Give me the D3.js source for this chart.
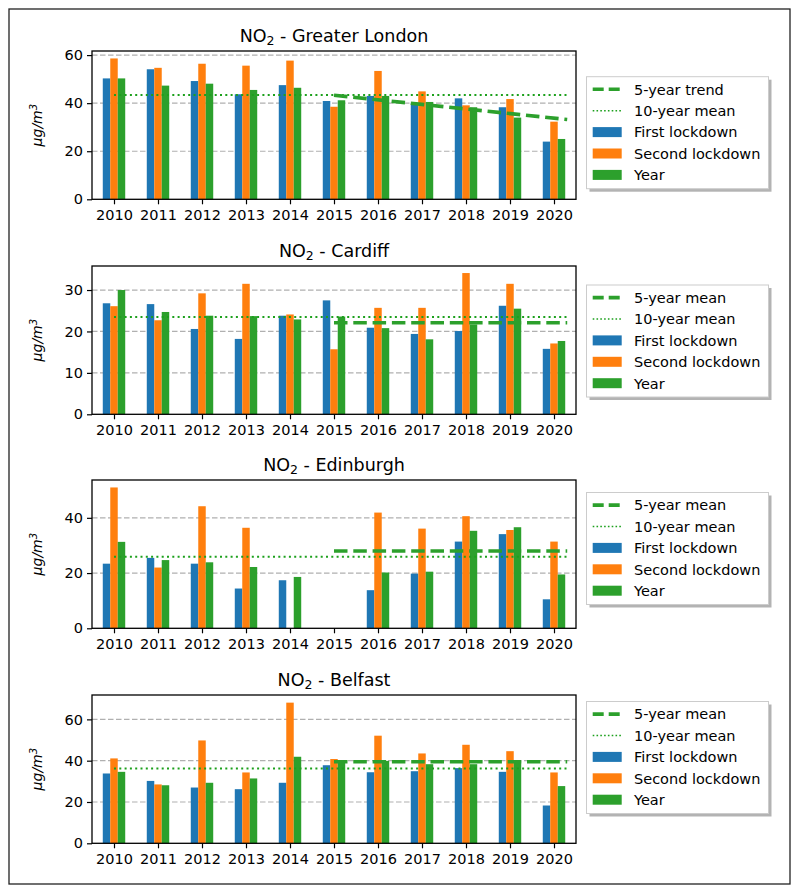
<!DOCTYPE html>
<html>
<head>
<meta charset="utf-8">
<script src="https://cdn.jsdelivr.net/npm/d3@7"></script>
<style>
  body { margin: 0; background: #fff; }
  svg { display: block; font-family: "DejaVu Sans", sans-serif; }
</style>
</head>
<body>
<svg id="chart" width="800" height="894"></svg>
<script>
const years = [2010, 2011, 2012, 2013, 2014, 2015, 2016, 2017, 2018, 2019, 2020];
const seriesNames = ["First lockdown", "Second lockdown", "Year"];
const seriesColors = ["#1f77b4", "#ff7f0e", "#2ca02c"];

const cities = ["Greater London", "Cardiff", "Edinburgh", "Belfast"];

const londonFirst  = [50.3, 54.1, 49.2, 43.7, 47.5, 40.9, 43.0, 39.9, 42.0, 38.3, 24.0];
const londonSecond = [58.6, 54.7, 56.4, 55.6, 57.7, 38.5, 53.4, 44.9, 39.1, 41.7, 32.3];
const londonYear   = [50.3, 47.3, 48.1, 45.5, 46.4, 41.2, 43.0, 40.5, 38.3, 34.0, 25.1];

const cardiffFirst  = [26.8, 26.6, 20.6, 18.2, 23.8, 27.5, 20.9, 19.4, 20.1, 26.2, 15.8];
const cardiffSecond = [26.1, 22.7, 29.2, 31.5, 24.1, 15.7, 25.7, 25.7, 34.1, 31.5, 17.1];
const cardiffYear   = [30.0, 24.7, 23.8, 23.7, 22.9, 23.6, 20.8, 18.1, 21.7, 25.5, 17.7];

const edinburghFirst  = [23.4, 25.5, 23.4, 14.4, 17.4, null, 13.8, 19.8, 31.4, 34.1, 10.5];
const edinburghSecond = [51.0, 22.0, 44.2, 36.4, null, null, 41.9, 36.1, 40.6, 35.6, 31.4];
const edinburghYear   = [31.3, 24.7, 23.9, 22.2, 18.6, null, 20.2, 20.5, 35.3, 36.6, 19.5];

const belfastFirst  = [33.8, 30.2, 27.0, 26.2, 29.3, 37.8, 34.4, 34.9, 36.4, 34.6, 18.3];
const belfastSecond = [41.1, 28.5, 49.8, 34.3, 68.1, 40.8, 52.1, 43.5, 47.7, 44.6, 34.3];
const belfastYear   = [34.6, 28.1, 29.3, 31.4, 41.9, 40.1, 39.9, 38.3, 38.3, 39.9, 27.7];

// 10-year mean and 5-year mean/trend lines: [start value, end value]
const tenYearMean = [43.4, 23.5, 25.9, 36.2];
const fiveYearLine = [[43.3, 33.2], [22.1, 22.1], [28.0, 28.0], [39.5, 39.5]];
const fiveYearLabels = ["5-year trend", "5-year mean", "5-year mean", "5-year mean"];
const tenYearSpan = [2010, 2020.3];
const fiveYearSpan = [2015, 2020.3];

const yMax = [61.7, 35.8, 53.7, 71.8];
const yTicks = [[0, 20, 40, 60], [0, 10, 20, 30], [0, 20, 40], [0, 20, 40, 60]];

const seriesData = [
  [londonFirst, londonSecond, londonYear],
  [cardiffFirst, cardiffSecond, cardiffYear],
  [edinburghFirst, edinburghSecond, edinburghYear],
  [belfastFirst, belfastSecond, belfastYear]
];

// layout
const axLeft = 92, axRight = 576;
const axTops = [51, 266, 480, 695];
const axH = 148.3;
const legendTops = [76.7, 285, 492.5, 701.5];

const svg = d3.select("#chart");

// outer frame
svg.append("rect").attr("x", 9).attr("y", 9).attr("width", 781).attr("height", 875)
  .attr("fill", "none").attr("stroke", "#222").attr("stroke-width", 1.3);

const x = d3.scaleLinear().domain([2009.5, 2020.5]).range([axLeft, axRight]);
const bw = 0.17;
const offsets = [-bw, 0, bw];

const lineGreen = "#2ca02c";
const dotGreen = "#1ca01c";

cities.forEach((city, p) => {
  const top = axTops[p];
  const bottom = top + axH;
  const y = d3.scaleLinear().domain([0, yMax[p]]).range([bottom, top]);
  const g = svg.append("g");

  // grid
  g.selectAll("line.grid").data(yTicks[p].filter(t => t > 0)).join("line")
    .attr("class", "grid")
    .attr("x1", axLeft).attr("x2", axRight)
    .attr("y1", d => y(d)).attr("y2", d => y(d))
    .attr("stroke", "#b0b0b0").attr("stroke-width", 1.2)
    .attr("stroke-dasharray", "5.5,2.5");

  // bars
  seriesData[p].forEach((vals, s) => {
    const rows = years.map((yr, i) => ({ yr, v: vals[i] })).filter(d => d.v != null);
    g.selectAll("rect.s" + s).data(rows).join("rect")
      .attr("class", "s" + s)
      .attr("x", d => x(d.yr + offsets[s] - bw / 2))
      .attr("width", x(bw) - x(0))
      .attr("y", d => y(d.v))
      .attr("height", d => y(0) - y(d.v))
      .attr("fill", seriesColors[s]);
  });

  // 10-year mean (dotted)
  g.append("line")
    .attr("x1", x(tenYearSpan[0])).attr("x2", x(tenYearSpan[1]))
    .attr("y1", y(tenYearMean[p])).attr("y2", y(tenYearMean[p]))
    .attr("stroke", dotGreen).attr("stroke-width", 2)
    .attr("stroke-dasharray", "2,3.3");

  // 5-year line (dashed)
  g.append("line")
    .attr("x1", x(fiveYearSpan[0])).attr("x2", x(fiveYearSpan[1]))
    .attr("y1", y(fiveYearLine[p][0])).attr("y2", y(fiveYearLine[p][1]))
    .attr("stroke", lineGreen).attr("stroke-width", 3.6)
    .attr("stroke-dasharray", "13.5,5.8");

  // axes
  const yAxis = d3.axisLeft(y).tickValues(yTicks[p]).tickSize(5).tickPadding(4);
  const ya = g.append("g").attr("transform", `translate(${axLeft},0)`).call(yAxis);
  const xAxis = d3.axisBottom(x).tickValues(years).tickFormat(d3.format("d")).tickSize(5).tickPadding(5);
  const xa = g.append("g").attr("transform", `translate(0,${bottom})`).call(xAxis);
  [ya, xa].forEach(a => {
    a.select(".domain").remove();
    a.selectAll(".tick line").attr("stroke", "#000").attr("stroke-width", 1.2);
    a.selectAll(".tick text").attr("fill", "#000").attr("font-size", 14.5)
      .attr("font-family", "DejaVu Sans");
  });

  // spines
  g.append("rect").attr("x", axLeft).attr("y", top).attr("width", axRight - axLeft).attr("height", axH)
    .attr("fill", "none").attr("stroke", "#000").attr("stroke-width", 1.3);

  // title
  const t = g.append("text").attr("x", (axLeft + axRight) / 2).attr("y", top - 9.5)
    .attr("text-anchor", "middle").attr("font-size", 17.5).attr("fill", "#000");
  t.append("tspan").text("NO");
  t.append("tspan").attr("dy", 3.5).attr("font-size", 12.5).text("2");
  t.append("tspan").attr("dy", -3.5).text(" - " + city);

  // y label
  const yl = g.append("text")
    .attr("transform", `translate(42,${top + axH / 2}) rotate(-90)`)
    .attr("text-anchor", "middle").attr("font-size", 14).attr("font-style", "italic").attr("fill", "#000");
  yl.append("tspan").text("μg/m");
  yl.append("tspan").attr("dy", -5).attr("font-size", 10).text("3");

  // legend
  const lx = 586.5, ly = legendTops[p], lw = 182, lh = 112;
  const lg = g.append("g");
  lg.append("rect").attr("x", lx + 3).attr("y", ly + 3).attr("width", lw).attr("height", lh)
    .attr("fill", "#b3b3b3");
  lg.append("rect").attr("x", lx).attr("y", ly).attr("width", lw).attr("height", lh)
    .attr("fill", "#fff").attr("stroke", "#cccccc").attr("stroke-width", 1);
  const labels = [fiveYearLabels[p], "10-year mean"].concat(seriesNames);
  const rowY = i => ly + 12.6 + i * 21.4;
  const hx0 = lx + 6.2, hx1 = lx + 35.2;
  lg.append("line").attr("x1", hx0).attr("x2", hx1).attr("y1", rowY(0)).attr("y2", rowY(0))
    .attr("stroke", lineGreen).attr("stroke-width", 3.6).attr("stroke-dasharray", "11,5");
  lg.append("line").attr("x1", hx0).attr("x2", hx1).attr("y1", rowY(1)).attr("y2", rowY(1))
    .attr("stroke", dotGreen).attr("stroke-width", 1.6).attr("stroke-dasharray", "1.6,2.2");
  seriesColors.forEach((c, s) => {
    lg.append("rect").attr("x", hx0).attr("y", rowY(s + 2) - 5).attr("width", hx1 - hx0).attr("height", 10)
      .attr("fill", c);
  });
  lg.selectAll("text.lab").data(labels).join("text").attr("class", "lab")
    .attr("x", lx + 47.5).attr("y", (d, i) => rowY(i) + 5.3)
    .attr("font-size", 14.5).attr("fill", "#000").text(d => d);
});
</script>
</body>
</html>
